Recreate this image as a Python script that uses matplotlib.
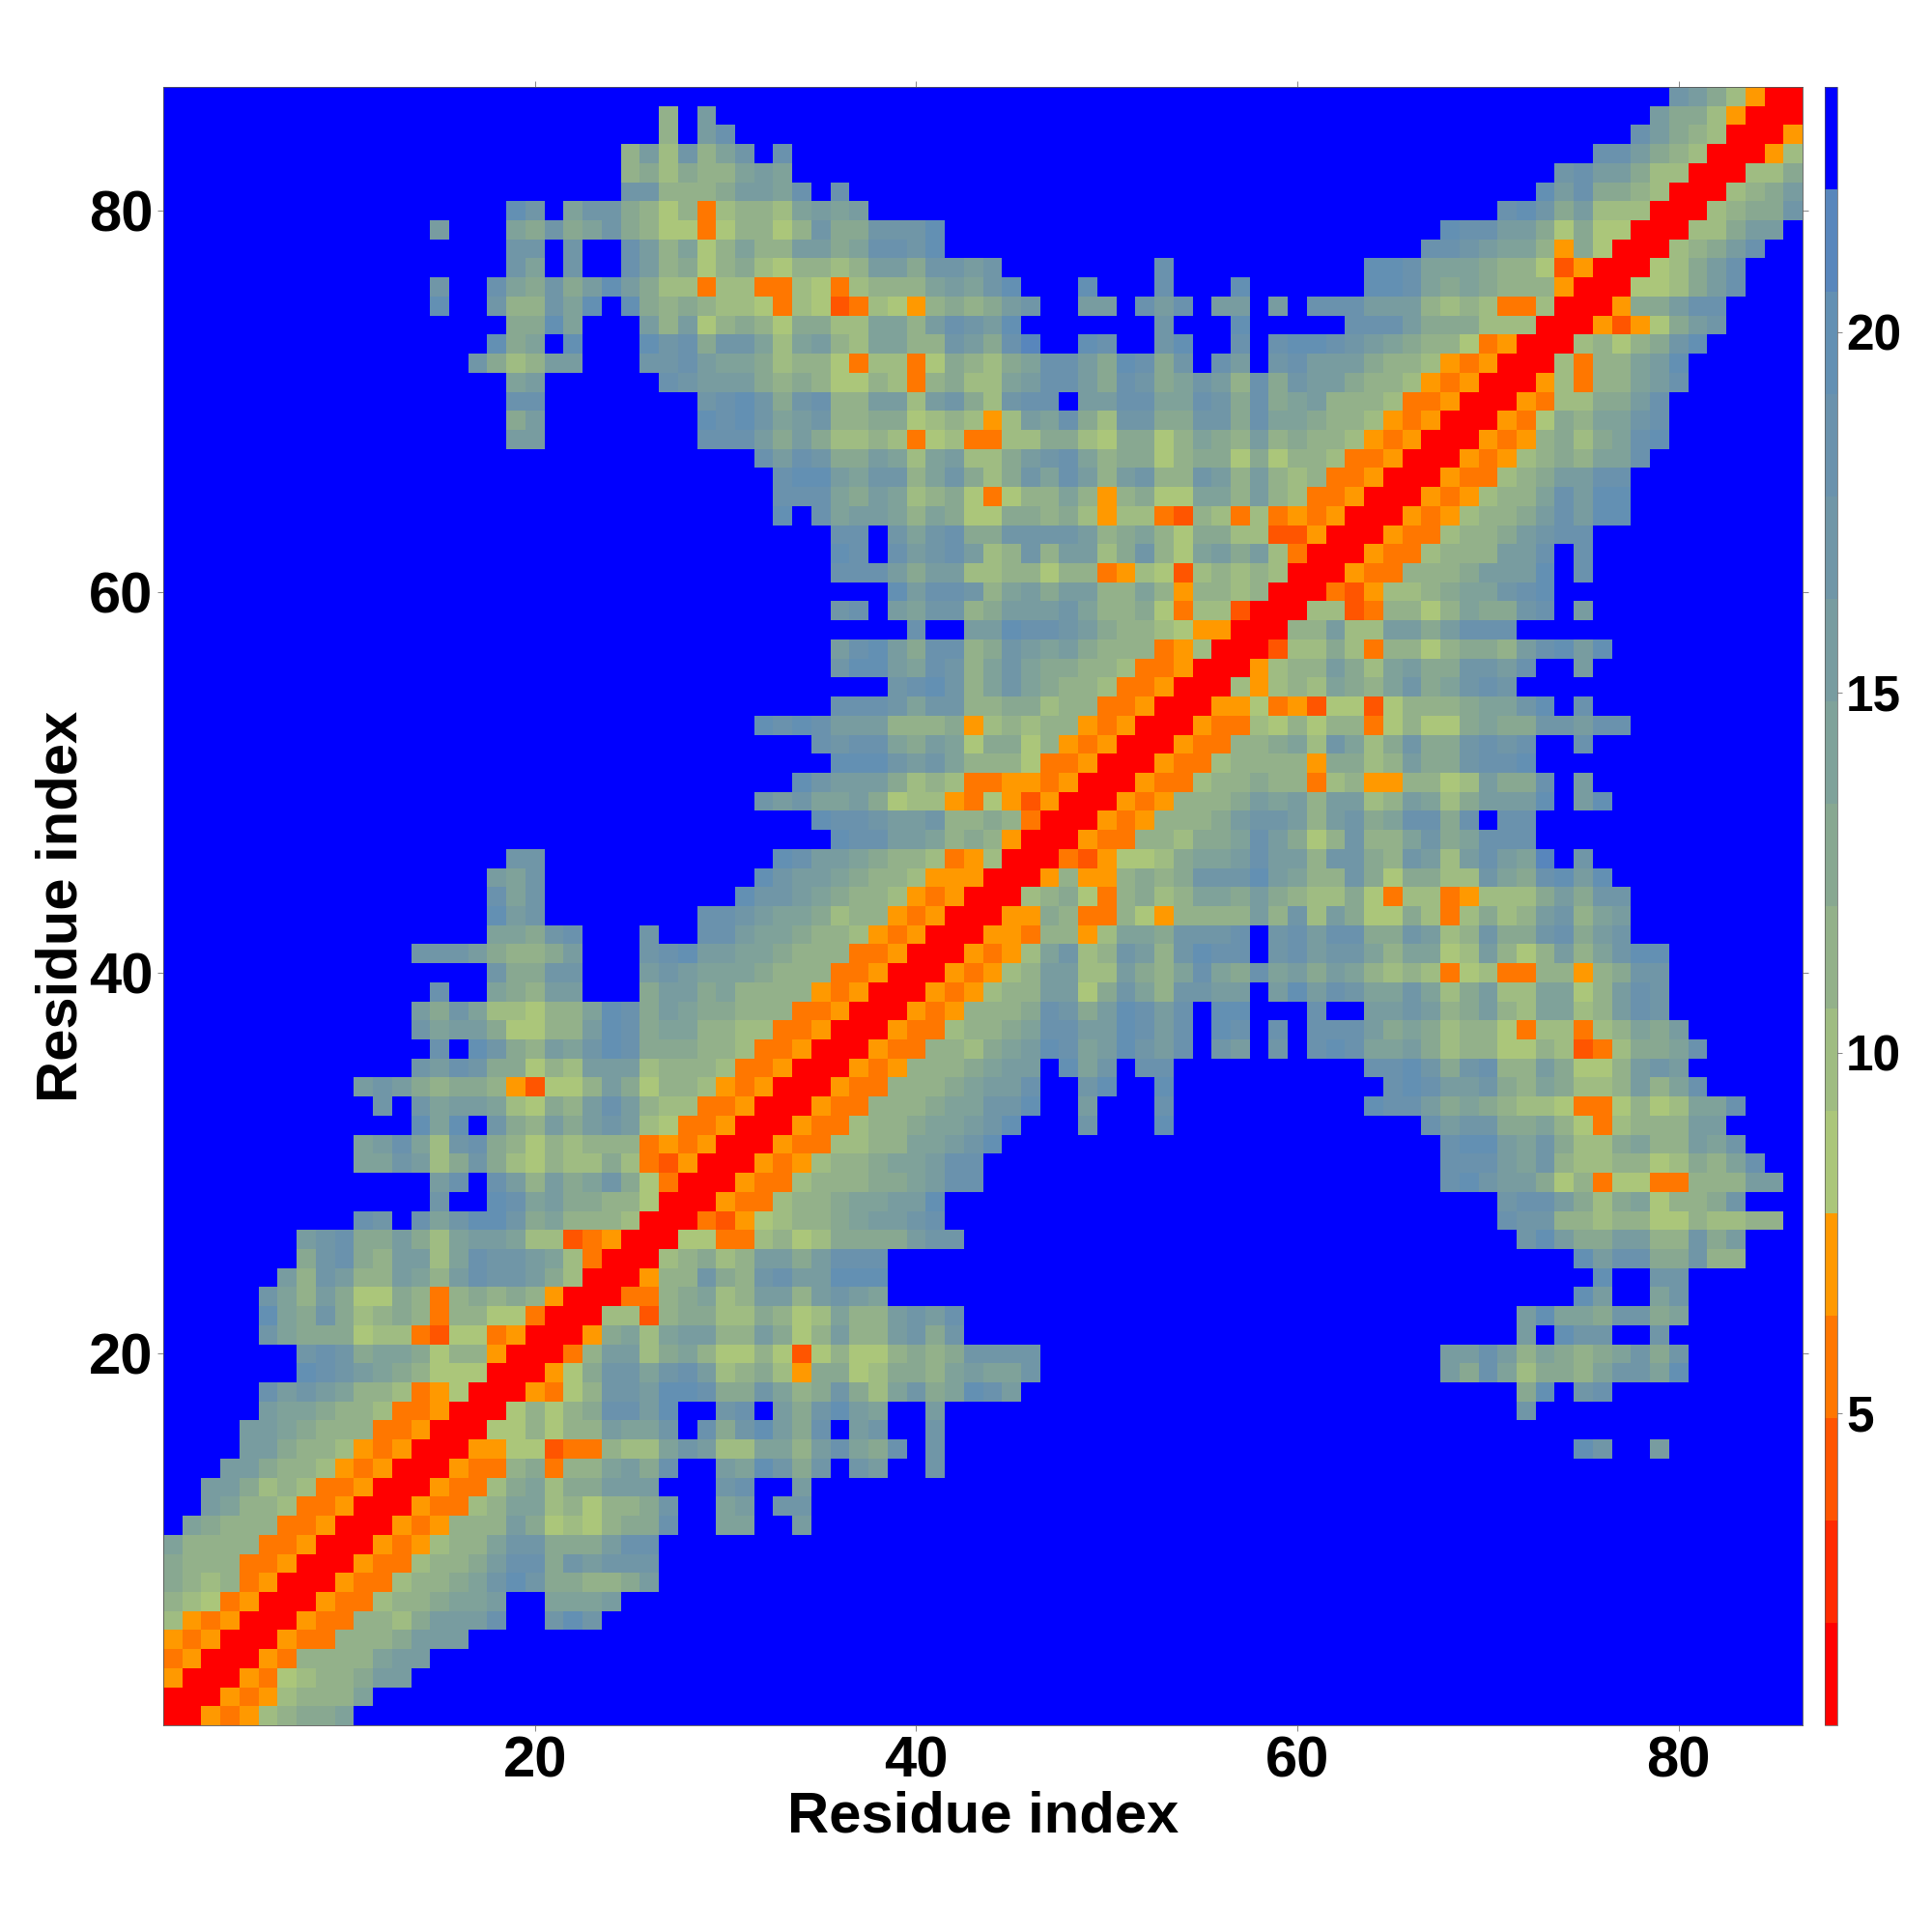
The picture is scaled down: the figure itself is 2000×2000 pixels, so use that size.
import numpy as np
import matplotlib
matplotlib.use("Agg")
import matplotlib.pyplot as plt
from matplotlib.colors import ListedColormap, BoundaryNorm

plt.rcParams['font.family'] = ['Liberation Sans', 'DejaVu Sans']
plt.rcParams['font.weight'] = 'bold'

residues = np.arange(1, 87)
tick_values = [20, 40, 60, 80]
cbar_ticks = [5, 10, 15, 20]
axis_label = "Residue index"

# distance bins
bin_low = 0.67
bin_high = 23.4
bin_colors = ["#ff0000", "#ff2a00", "#ff5500", "#ff7700", "#ff9900",
              "#abc67a", "#9fbc82", "#93b18a", "#88a891", "#7fa29a",
              "#789ca0", "#7096a7", "#6a92ad", "#6390b3", "#5886bc", "#0000ff"]

# each string: bin code (hex) of residue i against residue i+1, i+2, ...; anything not listed is 'f'
rows_01_14 = [
    "043467889",
    "043467779",
    "04356778aa",
    "04377779aa",
    "04337778aaa",
    "04337768aaacffbdb",
    "0433677899aff999a",
    "043367789bdb88778a",
    "04336778acc8babbb",
    "04346779bb888acc",
    "0434777a8565788cff99ffa",
    "04336799675778bff9afbb",
    "0433689688aaafffbcffa",
    "0433783779a8cffa9db8bfbaffb",
]
rows_15_28 = [
    "044552337669ba66997ac98cfb" + "f" * 33 + "dbffa",
    "0557577a99bfc8bda8cfabffb",
    "057578ccadffbcfa8bda9ffa" + "f" * 30 + "b",
    "04357bbaddc88b978b869b89dca" + "f" * 26 + "8dfbc",
    "0458bb9bca6786488568879a99b" + "f" * 21 + "a8c968879bb9d",
    "037aa68975575257557878bbbb" + "f" * 21 + "aaca798789b8b",
    "048969aa77a857a77ab8b" + "f" * 29 + "afdbbffb",
    "0662788668756977abac" + "f" * 29 + "ad998bb89",
    "03378967aa7aba9" + "f" * 36 + "daff9b",
    "0477b87bcaaddd" + "f" * 37 + "dffbb",
    "067867aa8accc" + "f" * 36 + "dacc88b77",
    "0553367568888abb" + "f" * 29 + "bda88aa77b8a",
    "03245677" + "89aabc" + "f" * 29 + "cbb776775576677",
    "0433677899aad" + "f" * 29 + "bcca86895778b",
]
rows_29_42 = [
    "04336777889acc" + "f" * 24 + "cdbaa85735533777aa",
    "0434677899acc" + "f" * 24 + "ccca9b7667756879c",
    "0433667799abd" + "f" * 23 + "cdda9b8668977a9b",
    "0433677899abd" + "fff" + "b" + "fff" + "d" + "f" * 13 + "cabb8897536777aa",
    "0433777899bbd" + "ff" + "a" + "fff" + "c" + "f" * 10 + "dcca8987665335756" + "99c",
    "043377789aacffbdffd" + "f" * 11 + "cdcaab8798667a79c",
    "043477789aafd9bfcc" + "f" * 10 + "ccdb8bc77a8557aba",
    "043377689adc9adbacfbafbfcdc99a86775576236889c",
    "043367789ccaadcacfdcfcfccca8986775366367" + "98a",
    "04347778cb8adcacfddfffcffaaba78a769967acb",
    "0434677aa58b97bbaafadacb99b968a669957acb",
    "043467aa66a879c98c9a8a976763563377478bb",
    "04346" + "9b67ba7bdccfbcabb979956a757a79bdd",
    "04437746998bbbcfbcacc88ba67b88bc8ab",
]
rows_43_57 = [
    "0448733754777" + "7a7b6a8558636867ab79a",
    "0678537867998a8766853663466" + "68a8bb",
    "047447878bbbda977b858866b98cdad",
    "0324556899acaa7bb87ba6aca9efb",
    "0433776889ca857b779b89ccc",
    "04347778abba7ab89cc8cfcc",
    "04347778a9a7aa67a968aaadfad",
    "0433677877" + "367447756a88cfa",
    "04336777748867a88bccd",
    "043377896b968b88bcbcffc",
    "0433657577357558988bbacc",
    "044534255257778" + "99bdfc",
    "0646769879b89bcb",
    "04677a869a88bbacffa",
    "0266863775788" + "7acdad",
]
rows_58_85 = [
    "077a66aa8accc",
    "066237757988bcfa",
    "0324667899bcd",
    "04337778aaadfc",
    "0433677" + "7aacfc",
    "04336778abcc",
    "04346778acadd",
    "04346779cadd",
    "0433678aacc",
    "0434678799c",
    "04347868" + "9cd",
    "04358799bc",
    "043668" + "8ac",
    "046377" + "9ac",
    "06377" + "9ad",
    "06757" + "8bd",
    "04245" + "8ab",
    "0488acc",
    "05568ac",
    "0568ac",
    "0678ac",
    "0668aa",
    "06788b",
    "0678a",
    "0668",
    "046",
    "04",
    "0",
]
all_rows = rows_01_14 + rows_15_28 + rows_29_42 + rows_43_57 + rows_58_85

n = len(residues)
bounds = np.linspace(bin_low, bin_high, len(bin_colors) + 1)
centers = (bounds[:-1] + bounds[1:]) / 2

levels = np.full((n, n), 15, dtype=int)
np.fill_diagonal(levels, 0)
for i, text in enumerate(all_rows):
    for k, ch in enumerate(text):
        j = i + 1 + k
        if j < n:
            levels[i, j] = int(ch, 16)
            levels[j, i] = int(ch, 16)
distance = centers[levels]

cmap = ListedColormap(bin_colors)
norm = BoundaryNorm(bounds, cmap.N)

W = 2000.0
fig = plt.figure(figsize=(20, 20), dpi=100, facecolor="white")
ax = fig.add_axes([169 / W, 1 - 1786 / W, (1866 - 169) / W, (1786 - 90) / W])
edges = np.arange(0.5, n + 1)
mesh = ax.pcolormesh(edges, edges, distance, cmap=cmap, norm=norm, antialiased=False)
ax.set_xlim(0.5, n + 0.5)
ax.set_ylim(0.5, n + 0.5)
ax.set_xticks(tick_values)
ax.set_yticks(tick_values)
ax.tick_params(axis="both", which="major", direction="out", length=4.5, width=0.5,
               color="#555555", top=True, right=True, labelsize=43, pad=3)
for spine in ax.spines.values():
    spine.set_linewidth(0.6)
    spine.set_color("#555555")
fig.text(1018 / W, 1 - 1881 / W, axis_label, fontsize=43, fontweight="bold",
         ha="center", va="center")
fig.text(64 / W, 1 - 938 / W, axis_label, fontsize=43, fontweight="bold",
         ha="center", va="center", rotation=90)

cax = fig.add_axes([1889 / W, 1 - 1786 / W, (1902 - 1889) / W, (1786 - 90) / W])
cb = fig.colorbar(mesh, cax=cax, spacing="proportional", ticks=cbar_ticks, drawedges=False)
cb.ax.minorticks_off()
cb.ax.tick_params(length=3.5, width=0.5, color="#555555", labelsize=37, pad=3)
cb.outline.set_linewidth(0.5)
cb.outline.set_edgecolor("#555555")

fig.savefig("out.png", dpi=100)
